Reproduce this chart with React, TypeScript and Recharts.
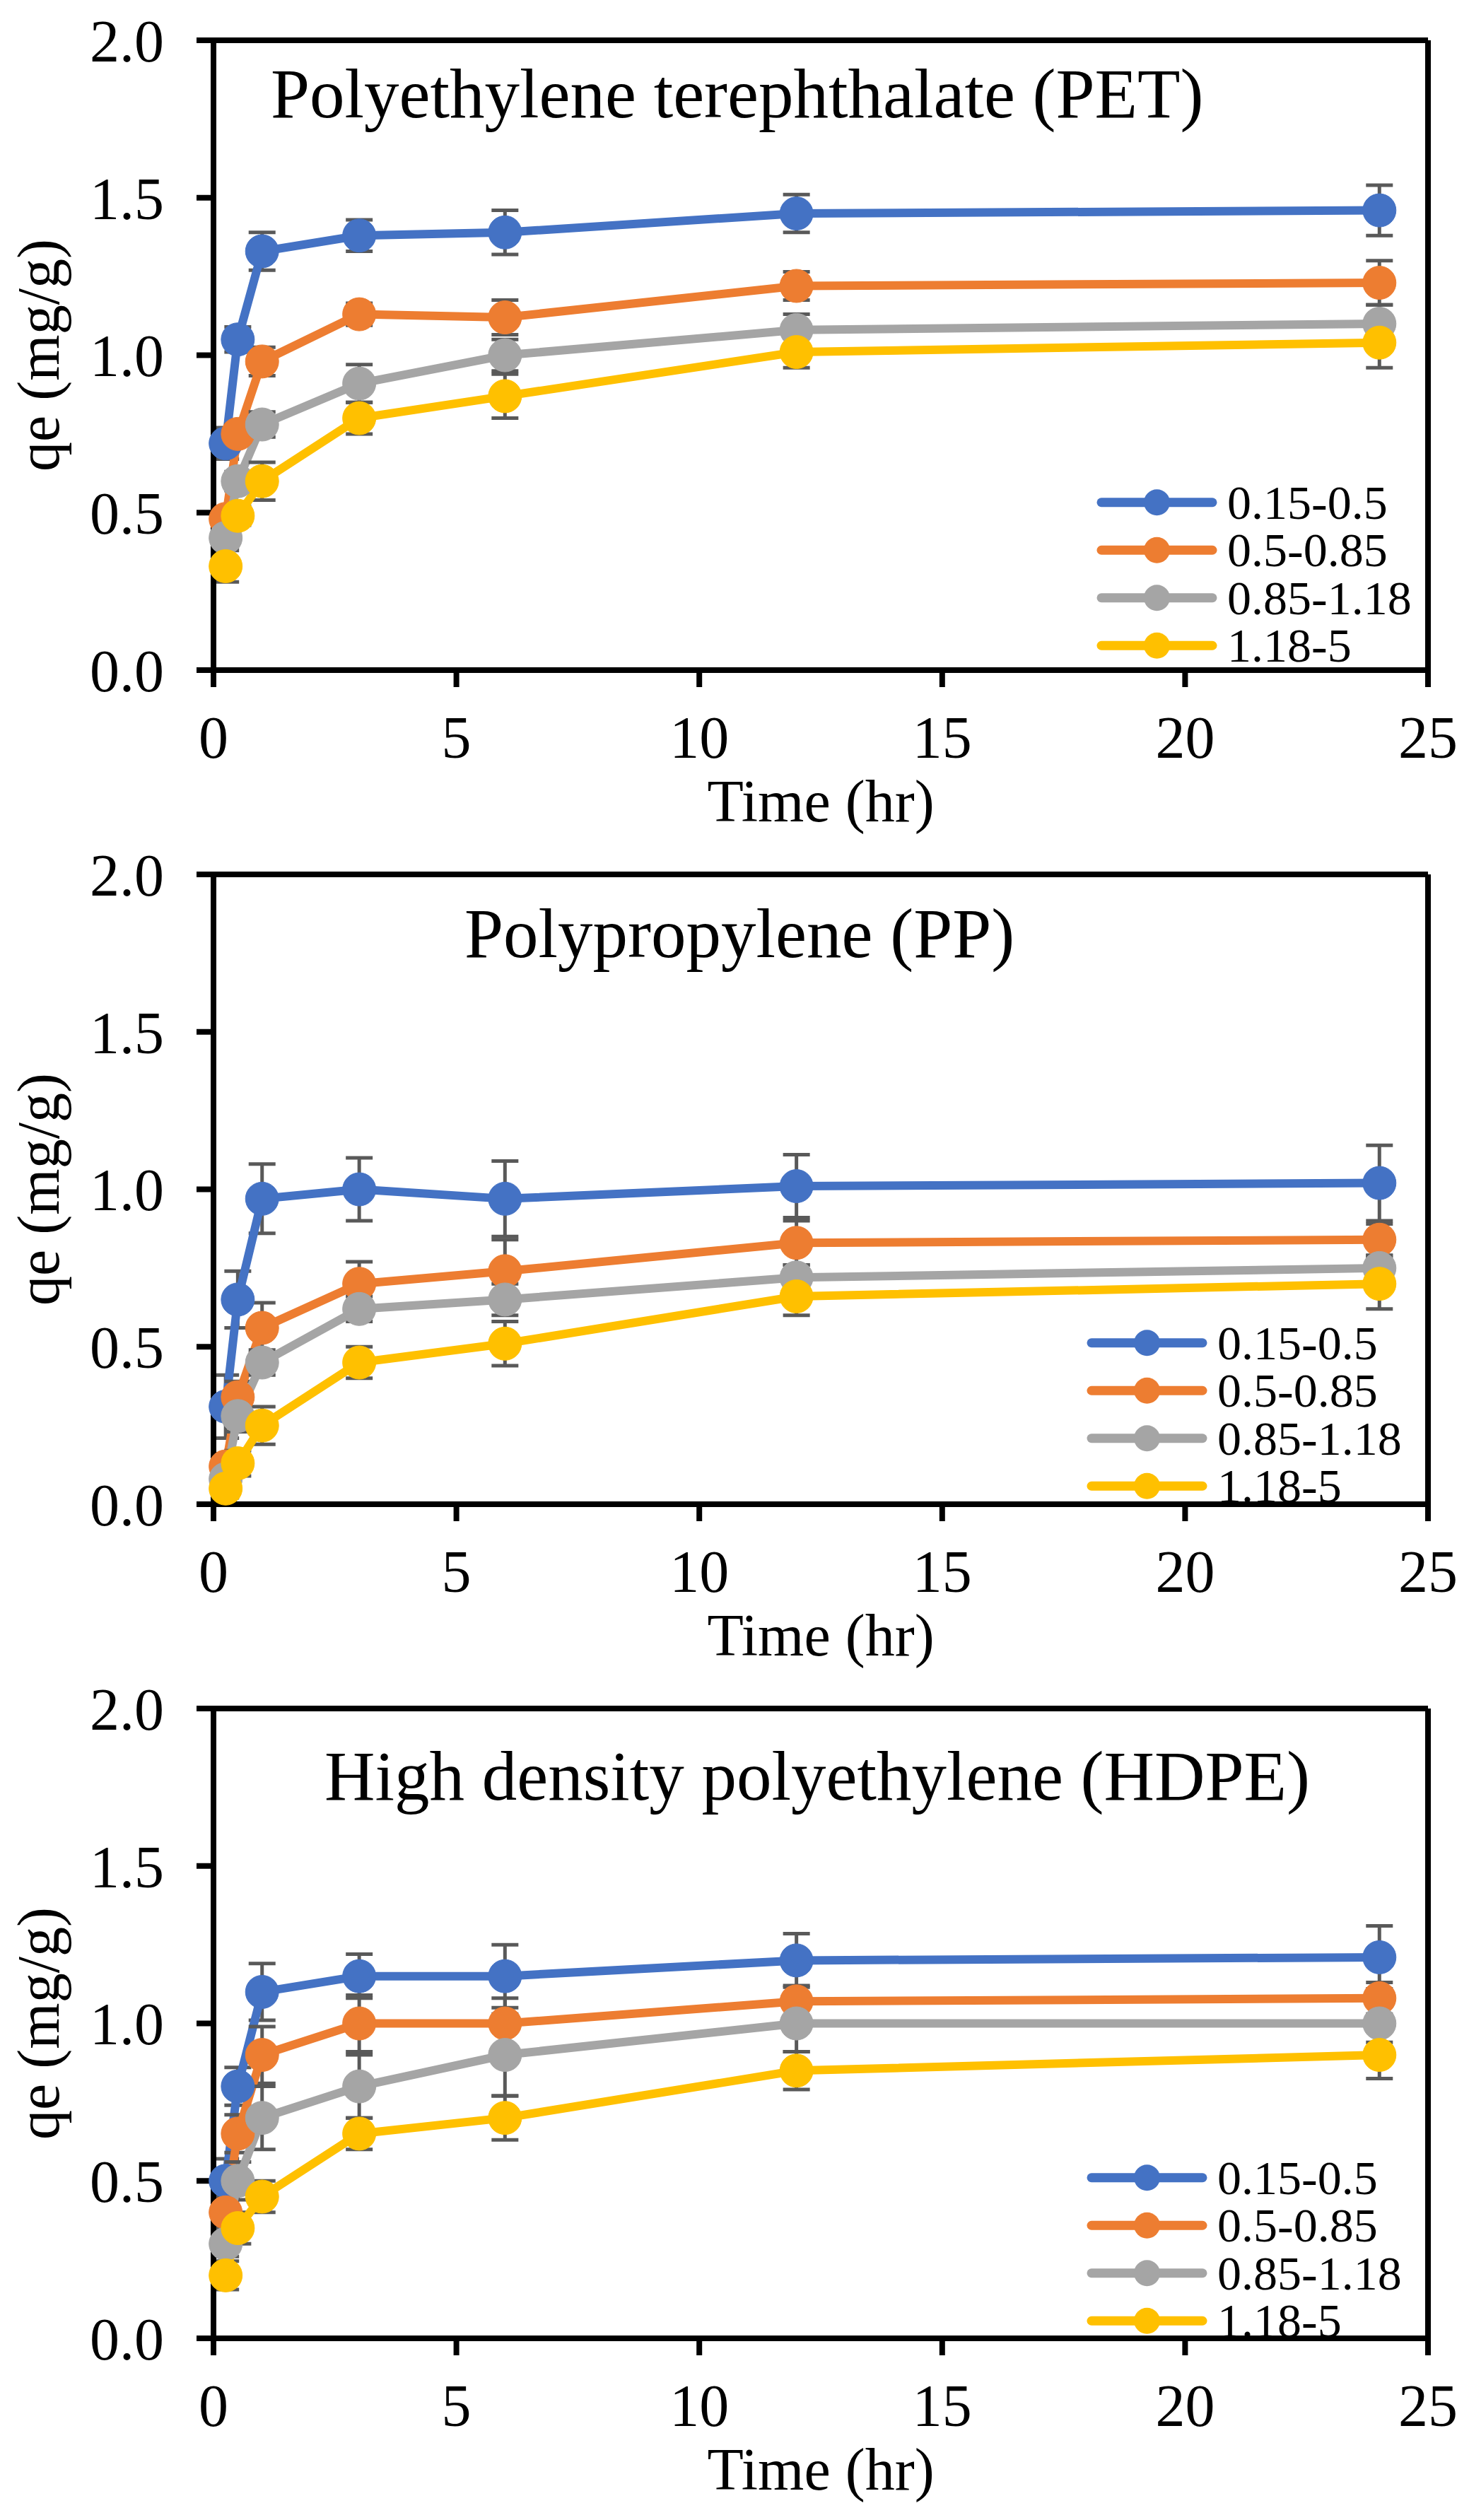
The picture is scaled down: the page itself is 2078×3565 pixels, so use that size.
import React from "react"
import { LineChart, Line, XAxis, YAxis, ErrorBar, ReferenceLine, Legend, Customized } from "recharts"

const FONT = '"Liberation Serif", "Times New Roman", serif'
const W = 2078
const H = 1180

// sampling times (hr)
const TIME = [0.25, 0.5, 1, 3, 6, 12, 24]
const X_TICKS = [0, 5, 10, 15, 20, 25]
const Y_TICKS = [0, 0.5, 1, 1.5, 2]

// particle size ranges (mm)
const SERIES_NAMES = ["0.15-0.5", "0.5-0.85", "0.85-1.18", "1.18-5"]
const SERIES_KEYS = ["s1", "s2", "s3", "s4"]
const COLORS = ["#4472C4", "#ED7D31", "#A5A5A5", "#FFC000"]

// PET
const PET_S1 = [0.72, 1.05, 1.33, 1.38, 1.39, 1.45, 1.46]
const PET_S2 = [0.48, 0.75, 0.98, 1.13, 1.12, 1.22, 1.23]
const PET_S3 = [0.42, 0.6, 0.78, 0.91, 1.0, 1.08, 1.1]
const PET_S4 = [0.33, 0.49, 0.6, 0.8, 0.87, 1.01, 1.04]
const PET_S1_ERR = [0.05, 0.04, 0.06, 0.05, 0.07, 0.06, 0.08]
const PET_S2_ERR = [0.03, 0.03, 0.045, 0.035, 0.055, 0.045, 0.07]
const PET_S3_ERR = [0.03, 0.03, 0.04, 0.06, 0.05, 0.05, 0.06]
const PET_S4_ERR = [0.05, 0.03, 0.06, 0.05, 0.07, 0.05, 0.08]

// PP
const PP_S1 = [0.31, 0.65, 0.97, 1.0, 0.97, 1.01, 1.02]
const PP_S2 = [0.12, 0.34, 0.56, 0.7, 0.74, 0.83, 0.84]
const PP_S3 = [0.08, 0.28, 0.45, 0.62, 0.65, 0.72, 0.75]
const PP_S4 = [0.05, 0.13, 0.25, 0.45, 0.51, 0.66, 0.7]
const PP_S1_ERR = [0.1, 0.09, 0.11, 0.1, 0.12, 0.1, 0.12]
const PP_S2_ERR = [0.04, 0.05, 0.08, 0.07, 0.1, 0.07, 0.05]
const PP_S3_ERR = [0.03, 0.05, 0.04, 0.04, 0.05, 0.04, 0.04]
const PP_S4_ERR = [0.03, 0.04, 0.06, 0.05, 0.07, 0.06, 0.08]

// HDPE
const HDPE_S1 = [0.5, 0.8, 1.1, 1.15, 1.15, 1.2, 1.21]
const HDPE_S2 = [0.4, 0.65, 0.9, 1.0, 1.0, 1.07, 1.08]
const HDPE_S3 = [0.3, 0.5, 0.7, 0.8, 0.9, 1.0, 1.0]
const HDPE_S4 = [0.2, 0.35, 0.45, 0.65, 0.7, 0.85, 0.9]
const HDPE_S1_ERR = [0.07, 0.06, 0.09, 0.07, 0.1, 0.085, 0.1]
const HDPE_S2_ERR = [0.05, 0.06, 0.09, 0.09, 0.08, 0.05, 0.05]
const HDPE_S3_ERR = [0.04, 0.06, 0.1, 0.1, 0.13, 0.09, 0.06]
const HDPE_S4_ERR = [0.045, 0.05, 0.05, 0.05, 0.07, 0.06, 0.075]

const buildRows = (values: number[][], errors: number[][]) =>
  TIME.map((t, i) => {
    const row: Record<string, number> = { t }
    SERIES_KEYS.forEach((k, s) => {
      row[k] = values[s][i]
      row[k + "Err"] = errors[s][i]
    })
    return row
  })

const PANELS = [
  {
    title: "Polyethylene terephthalate (PET)",
    rows: buildRows([PET_S1, PET_S2, PET_S3, PET_S4], [PET_S1_ERR, PET_S2_ERR, PET_S3_ERR, PET_S4_ERR]),
    titleX: 383, titleY: 166, legendLeft: 1545, legendTop: 677,
  },
  {
    title: "Polypropylene (PP)",
    rows: buildRows([PP_S1, PP_S2, PP_S3, PP_S4], [PP_S1_ERR, PP_S2_ERR, PP_S3_ERR, PP_S4_ERR]),
    titleX: 657, titleY: 174, legendLeft: 1531, legendTop: 686,
  },
  {
    title: "High density polyethylene (HDPE)",
    rows: buildRows([HDPE_S1, HDPE_S2, HDPE_S3, HDPE_S4], [HDPE_S1_ERR, HDPE_S2_ERR, HDPE_S3_ERR, HDPE_S4_ERR]),
    titleX: 459, titleY: 186, legendLeft: 1531, legendTop: 687,
  },
]

const ROW_H = 67.5
const LEGEND_W = 530

/* eslint-disable @typescript-eslint/no-explicit-any */
function ExcelLegend(props: any) {
  const items = props.payload || []
  return (
    <svg width={LEGEND_W} height={ROW_H * items.length} style={{ display: "block", overflow: "visible" }}>
      {items.map((p: any, i: number) => {
        const cy = ROW_H * i + ROW_H / 2
        return (
          <g key={p.value}>
            <line x1={13} y1={cy} x2={170} y2={cy} stroke={p.color} strokeWidth={13} strokeLinecap="round" />
            <circle cx={91.5} cy={cy} r={18.5} fill={p.color} />
            <text x={191} y={cy + 23} fontSize={68} fontFamily={FONT} fill="#000">{p.value}</text>
          </g>
        )
      })}
    </svg>
  )
}

function PanelTitle({ text, x, y }: { text: string; x: number; y: number }) {
  return (
    <text x={x} y={y} fontSize={99} fontFamily={FONT} fill="#000">{text}</text>
  )
}

function Panel({ panel }: { panel: (typeof PANELS)[number] }) {
  const tickStyle = { fontSize: 84, fill: "#000", fontFamily: FONT }
  const axisStroke = { stroke: "#000", strokeWidth: 8 }
  return (
    <LineChart width={W} height={H} data={panel.rows} margin={{ top: 57, right: 58, bottom: 0, left: 0 }}>
      <XAxis
        dataKey="t" type="number" domain={[0, 25]} ticks={X_TICKS} interval={0} height={232}
        axisLine={axisStroke} tickLine={axisStroke} tickSize={24} tickMargin={40} tick={tickStyle}
        label={{ value: "Time (hr)", position: "insideBottom", offset: 18, fontSize: 84, fill: "#000", fontFamily: FONT }}
      />
      <YAxis
        type="number" domain={[0, 2]} ticks={Y_TICKS} interval={0} width={302}
        tickFormatter={(v: number) => v.toFixed(1)}
        axisLine={axisStroke} tickLine={axisStroke} tickSize={24} tickMargin={46} tick={tickStyle}
        label={{ value: "qe (mg/g)", angle: -90, position: "insideLeft", offset: 53, fontSize: 84, fill: "#000", fontFamily: FONT, style: { textAnchor: "middle" } }}
      />
      <ReferenceLine y={2} stroke="#000" strokeWidth={8} />
      <ReferenceLine x={25} stroke="#000" strokeWidth={8} />
      {SERIES_KEYS.map((k, i) => (
        <Line
          key={k} type="linear" dataKey={k} name={SERIES_NAMES[i]} stroke={COLORS[i]} strokeWidth={12}
          dot={{ r: 23.5, fill: COLORS[i], stroke: COLORS[i], strokeWidth: 1 }} activeDot={false}
          isAnimationActive={false}
        >
          <ErrorBar dataKey={k + "Err"} direction="y" width={19} strokeWidth={5} stroke="#595959" isAnimationActive={false} />
        </Line>
      ))}
      <Legend
        layout="vertical" align="center" verticalAlign="middle" content={<ExcelLegend />}
        wrapperStyle={{ left: panel.legendLeft, top: panel.legendTop, width: LEGEND_W, height: ROW_H * 4 }}
      />
      <Customized component={<PanelTitle text={panel.title} x={panel.titleX} y={panel.titleY} />} />
    </LineChart>
  )
}

export default function App() {
  return (
    <div style={{ position: "absolute", left: 0, top: 0, width: W, background: "#fff" }}>
      {PANELS.map((p) => (
        <Panel key={p.title} panel={p} />
      ))}
    </div>
  )
}
